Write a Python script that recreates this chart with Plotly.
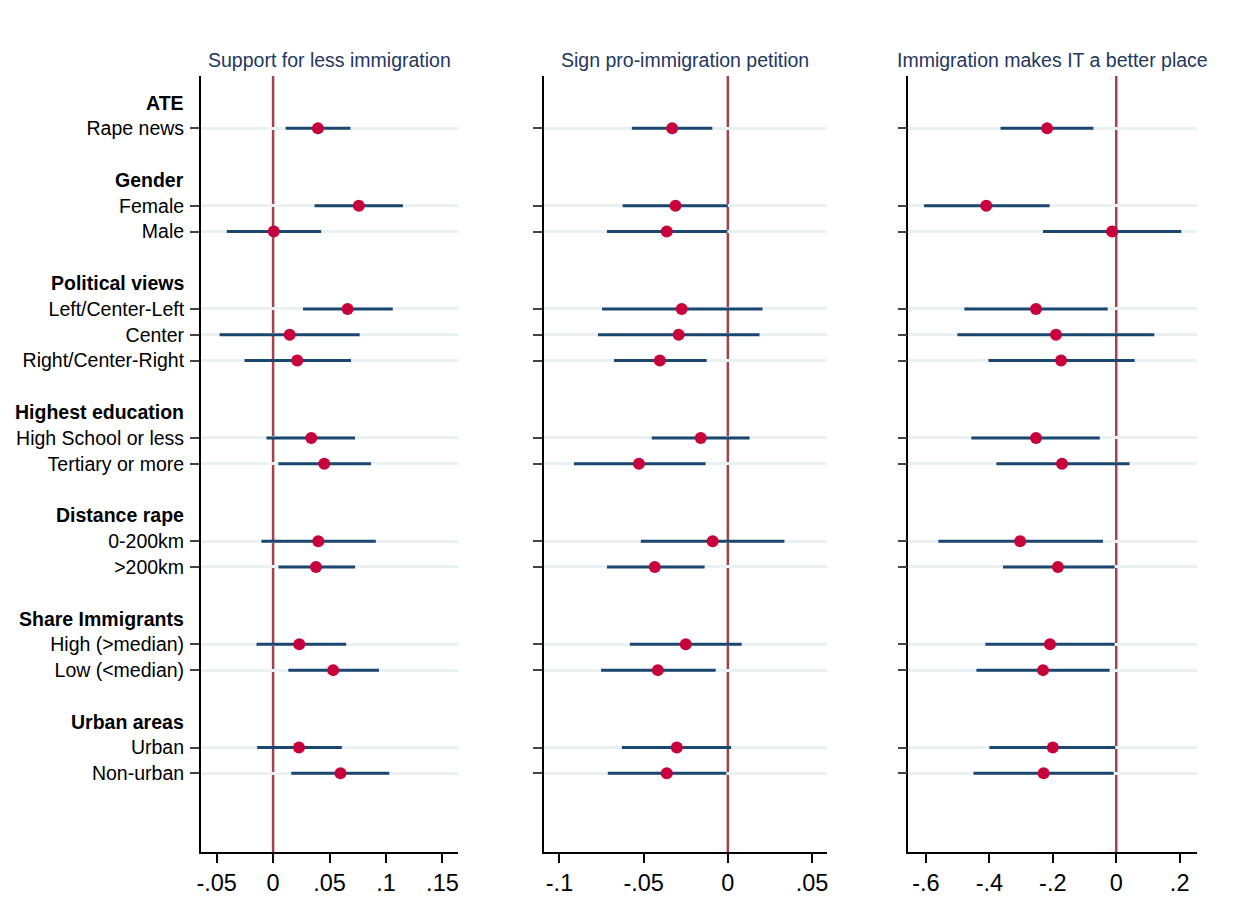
import plotly.graph_objects as go

# Row layout (index from top). Headers and data rows
header_labels = ["ATE", "Gender", "Political views", "Highest education",
                 "Distance rape", "Share Immigrants", "Urban areas"]
header_rows = [0, 3, 7, 12, 16, 20, 24]

row_labels = ["Rape news", "Female", "Male", "Left/Center-Left", "Center",
              "Right/Center-Right", "High School or less", "Tertiary or more",
              "0-200km", ">200km", "High (>median)", "Low (<median)",
              "Urban", "Non-urban"]
row_pos = [1, 4, 5, 8, 9, 10, 13, 14, 17, 18, 21, 22, 25, 26]

panel_titles = ["Support for less immigration", "Sign pro-immigration petition",
                "Immigration makes IT a better place"]

# Panel 1: Support for less immigration
est1 = [0.0397, 0.0759, 0.0006, 0.0660, 0.0147, 0.0214, 0.0338, 0.0453,
        0.0400, 0.0380, 0.0232, 0.0532, 0.0229, 0.0597]
lo1 = [0.0111, 0.0367, -0.0410, 0.0265, -0.0474, -0.0253, -0.0059, 0.0047,
       -0.0103, 0.0047, -0.0147, 0.0135, -0.0141, 0.0161]
hi1 = [0.0685, 0.1150, 0.0426, 0.1060, 0.0767, 0.0690, 0.0726, 0.0867,
       0.0910, 0.0726, 0.0647, 0.0938, 0.0609, 0.1029]

# Panel 2: Sign pro-immigration petition
est2 = [-0.0331, -0.0311, -0.0363, -0.0274, -0.0292, -0.0404, -0.0161, -0.0528,
        -0.0090, -0.0434, -0.0250, -0.0416, -0.0303, -0.0363]
lo2 = [-0.0570, -0.0625, -0.0718, -0.0747, -0.0771, -0.0676, -0.0452, -0.0914,
       -0.0517, -0.0718, -0.0582, -0.0753, -0.0629, -0.0713]
hi2 = [-0.0092, 0.0000, -0.0003, 0.0206, 0.0188, -0.0126, 0.0129, -0.0132,
       0.0336, -0.0138, 0.0082, -0.0072, 0.0019, -0.0009]

# Panel 3: Immigration makes IT a better place
est3 = [-0.218, -0.410, -0.013, -0.253, -0.190, -0.174, -0.253, -0.171,
        -0.303, -0.184, -0.209, -0.231, -0.200, -0.229]
lo3 = [-0.365, -0.606, -0.231, -0.479, -0.501, -0.403, -0.457, -0.378,
       -0.561, -0.357, -0.413, -0.441, -0.400, -0.450]
hi3 = [-0.072, -0.210, 0.205, -0.027, 0.120, 0.058, -0.052, 0.042,
       -0.042, -0.005, -0.005, -0.021, -0.003, -0.008]

x_ticks = [[-0.05, 0, 0.05, 0.1, 0.15], [-0.1, -0.05, 0, 0.05],
           [-0.6, -0.4, -0.2, 0, 0.2]]
x_ticktext = [["-.05", "0", ".05", ".1", ".15"], ["-.1", "-.05", "0", ".05"],
              ["-.6", "-.4", "-.2", "0", ".2"]]
x_ranges = [[-0.0641, 0.1635], [-0.1093, 0.0589], [-0.6556, 0.2553]]

# page offset (body margin) compensation
OFF = 8
W, H = 1243 - OFF, 898 - OFF
px_domains = [(197.5, 455.5), (542, 826.3), (908, 1198)]
plot_top, plot_bottom = 76, 852
y_range = [29.05, -1.03]

CI_COLOR = "#1a476f"
PT_COLOR = "#c8003c"
REF_COLOR = "#a3424b"
GRID_COLOR = "#eaf1f3"
TITLE_COLOR = "#23375e"
FONT = "Liberation Sans, Arial, Helvetica, sans-serif"

fig = go.Figure()
data = [(est1, lo1, hi1), (est2, lo2, hi2), (est3, lo3, hi3)]

for i, (est, lo, hi) in enumerate(data):
    sfx = "" if i == 0 else str(i + 1)
    plus = [h - e for h, e in zip(hi, est)]
    minus = [e - l for e, l in zip(est, lo)]
    fig.add_trace(go.Scatter(
        x=est, y=row_pos, mode="markers",
        xaxis="x" + sfx, yaxis="y" + sfx,
        marker=dict(color=PT_COLOR, size=12, line=dict(width=0)),
        error_x=dict(type="data", symmetric=False, array=plus, arrayminus=minus,
                     color=CI_COLOR, thickness=3, width=0),
        showlegend=False, hoverinfo="skip"))

layout = dict(width=W, height=H, margin=dict(l=0, r=0, t=0, b=0),
              plot_bgcolor="white", paper_bgcolor="white",
              font=dict(family=FONT, color="black"), showlegend=False)

shapes = []
annotations = []
ydom = [1 - (plot_bottom - OFF) / H, 1 - (plot_top - OFF) / H]
for i in range(3):
    sfx = "" if i == 0 else str(i + 1)
    x0, x1 = px_domains[i]
    layout["xaxis" + sfx] = dict(
        domain=[(x0 - OFF) / W, (x1 - OFF) / W], range=x_ranges[i], anchor="y" + sfx,
        tickvals=x_ticks[i], ticktext=x_ticktext[i], ticks="outside",
        ticklen=9, tickwidth=1.5, tickcolor="black",
        tickfont=dict(size=23.5, color="black", family=FONT),
        showline=True, linecolor="black", linewidth=1.5,
        showgrid=False, zeroline=False, fixedrange=True)
    layout["yaxis" + sfx] = dict(
        domain=ydom, range=y_range, anchor="x" + sfx,
        tickvals=row_pos, ticktext=row_labels if i == 0 else [""] * len(row_pos),
        showticklabels=(i == 0), ticklabelstandoff=2,
        ticks="outside", ticklen=9, tickwidth=1.5, tickcolor="#444444",
        tickfont=dict(size=19.5, color="black", family=FONT),
        showline=True, linecolor="black", linewidth=1.5,
        showgrid=True, gridcolor=GRID_COLOR, gridwidth=3,
        zeroline=False, fixedrange=True)
    shapes.append(dict(type="line", xref="x" + sfx, yref="y" + sfx + " domain",
                       x0=0, x1=0, y0=0, y1=1, layer="below",
                       line=dict(color=REF_COLOR, width=2.5)))
    annotations.append(dict(text=panel_titles[i], xref="x" + sfx + " domain",
                            yref="paper", x=0.5, y=1 - (60.5 - OFF) / H,
                            xanchor="center", yanchor="middle", showarrow=False,
                            font=dict(size=19.5, color=TITLE_COLOR, family=FONT)))

for lab, r in zip(header_labels, header_rows):
    annotations.append(dict(text="<b>" + lab + "</b>", xref="paper", yref="y",
                            x=(183 - OFF) / W, y=r, xanchor="right", yanchor="middle",
                            showarrow=False,
                            font=dict(size=19.5, color="black", family=FONT)))

layout["shapes"] = shapes
layout["annotations"] = annotations
fig.update_layout(**layout)
fig.write_html("out.html")
